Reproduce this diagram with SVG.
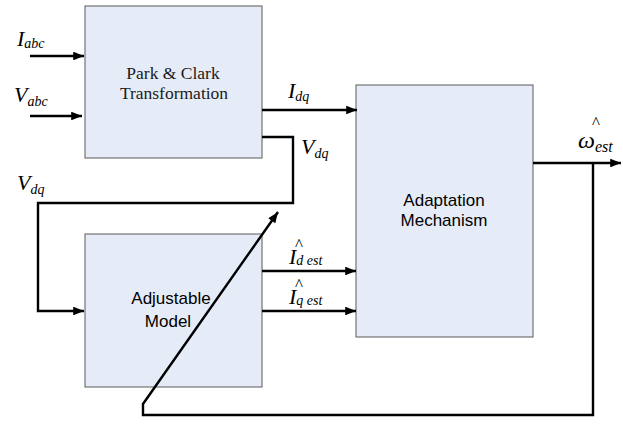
<svg xmlns="http://www.w3.org/2000/svg" width="623" height="427" viewBox="0 0 623 427">
<defs>
<style>
.box{fill:#e6ecf7;stroke:#5a5a5a;stroke-width:1}
.ln{fill:none;stroke:#000;stroke-width:2.4}
.sans{font-family:"Liberation Sans",Arial,sans-serif;font-size:17px;fill:#000;text-anchor:middle}
.serif{font-family:"Liberation Serif","Times New Roman",serif;font-size:17.5px;fill:#1a1a1a;text-anchor:middle}
.var{font-family:"Liberation Serif","Times New Roman",serif;font-style:italic;font-size:22px;fill:#000}
.sub{font-size:14px}
.hat{font-family:"Liberation Serif","Times New Roman",serif;font-size:17px;fill:#000}
</style>
<marker id="ah" viewBox="0 0 10 8" refX="10" refY="4" markerWidth="5" markerHeight="3.6" orient="auto" markerUnits="strokeWidth">
<path d="M0,0 L10,4 L0,8 z" fill="#000"/>
</marker>
</defs>
<rect width="623" height="427" fill="#fff"/>
<g id="park">
<rect class="box" x="85" y="6" width="177" height="152"/>
<text class="serif" x="173" y="79">Park &amp; Clark</text>
<text class="serif" x="174" y="99">Transformation</text>
</g>
<g id="adaptation">
<rect class="box" x="356" y="85" width="177" height="252"/>
<text class="sans" x="444" y="206">Adaptation</text>
<text class="sans" x="444" y="226">Mechanism</text>
</g>
<g id="adjustable">
<rect class="box" x="85" y="234" width="177" height="153"/>
<text class="sans" x="171" y="304">Adjustable</text>
<text class="sans" x="168" y="327">Model</text>
</g>
<g id="connectors">
<line class="ln" x1="30" y1="56" x2="84" y2="56" marker-end="url(#ah)"/>
<line class="ln" x1="30" y1="116" x2="82" y2="116" marker-end="url(#ah)"/>
<line class="ln" x1="262" y1="110" x2="357" y2="110" marker-end="url(#ah)"/>
<polyline class="ln" points="262,137 293,137 293,203 38,203 38,311 84,311" marker-end="url(#ah)"/>
<line class="ln" x1="262" y1="271" x2="356" y2="271" marker-end="url(#ah)"/>
<line class="ln" x1="262" y1="311" x2="356" y2="311" marker-end="url(#ah)"/>
<line class="ln" x1="533" y1="163" x2="621" y2="163" marker-end="url(#ah)"/>
<polyline class="ln" points="593,163 593,415 143,415 143,404 278,212" marker-end="url(#ah)"/>
</g>
<g id="labels">
<text class="var" x="17" y="46">I<tspan class="sub" dy="2">abc</tspan></text>
<text class="var" x="14" y="102">V<tspan class="sub" dy="4">abc</tspan></text>
<text class="var" x="288" y="98">I<tspan class="sub" dy="3">dq</tspan></text>
<text class="var" x="301" y="154">V<tspan class="sub" dy="4">dq</tspan></text>
<text class="var" x="17" y="190">V<tspan class="sub" dy="4">dq</tspan></text>
<text class="var" x="289" y="264">I<tspan class="sub" dy="1">d est</tspan></text>
<text class="hat" x="295" y="250">^</text>
<text class="var" x="289" y="304">I<tspan class="sub" dy="1">q est</tspan></text>
<text class="hat" x="295" y="290">^</text>
<text class="var" x="578" y="148" style="font-size:24px">ω<tspan style="font-size:16px" dy="4">est</tspan></text>
<text class="hat" x="592" y="128">^</text>
</g>
</svg>
